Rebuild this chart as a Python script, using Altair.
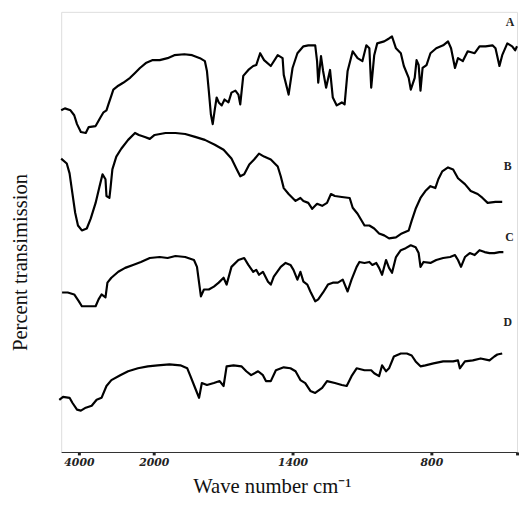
import altair as alt
import pandas as pd

# Wave number (cm^-1) and transmission (arbitrary offset units)
SPEC_A = [(4500,347),(4395,349),(4237,347),(4132,342),(4053,333),(3947,325),(3816,324),(3737,330),
          (3553,331),(3421,340),(3342,345),(3263,347),(3211,353),(3132,362),(3079,368),(2947,372),
          (2816,375),(2632,380),(2500,385),(2368,390),(2211,395),(2026,398),(1974,398),(1940,400),
          (1911,403),(1868,404),(1834,403),(1800,400),(1779,397),(1770,387),(1762,367),(1753,343),
          (1745,333),(1736,348),(1728,360),(1719,355),(1706,352),(1694,358),(1677,355),(1664,365),
          (1647,367),(1634,363),(1626,353),(1613,382),(1591,388),(1570,392),(1557,393),(1540,405),
          (1523,398),(1494,392),(1464,403),(1443,400),(1438,383),(1417,363),(1400,390),(1379,405),
          (1353,412),(1332,413),(1302,413),(1294,397),(1289,375),(1277,402),(1268,387),(1255,370),
          (1238,388),(1226,360),(1209,352),(1187,355),(1175,353),(1162,387),(1140,407),(1119,400),
          (1098,397),(1081,413),(1068,410),(1060,370),(1047,403),(1034,415),(1004,417),(983,420),
          (970,422),(953,410),(932,405),(919,392),(898,380),(889,368),(872,380),(864,398),(855,393),
          (847,367),(838,390),(821,393),(804,405),(779,410),(749,413),(728,417),(715,410),(698,390),
          (685,400),(664,397),(643,407),(613,405),(592,412),(566,412),(536,413),(523,410),(506,392),
          (494,403),(472,415),(451,412),(438,408),(430,412)]

SPEC_B = [(4500,298),(4342,293),(4263,283),(4184,263),(4105,243),(4026,230),(3921,225),(3789,227),
          (3684,237),(3553,253),(3447,270),(3368,282),(3289,277),(3263,260),(3184,258),(3158,267),
          (3105,287),(3000,300),(2868,308),(2684,317),(2500,324),(2395,322),(2237,320),(2105,318),
          (1996,322),(1949,324),(1906,324),(1864,323),(1821,320),(1779,317),(1736,312),(1698,307),
          (1664,298),(1643,288),(1626,280),(1609,282),(1587,292),(1566,297),(1545,303),(1523,300),
          (1494,297),(1464,290),(1451,280),(1438,268),(1417,262),(1387,255),(1366,258),(1353,255),
          (1332,253),(1315,247),(1294,252),(1272,250),(1251,253),(1234,262),(1217,260),(1187,259),
          (1153,258),(1140,248),(1119,242),(1089,230),(1068,230),(1047,227),(1026,222),(1004,220),
          (983,217),(953,218),(928,222),(898,225),(885,235),(868,247),(847,258),(826,265),(804,270),
          (783,268),(770,277),(753,285),(728,289),(706,287),(685,278),(655,272),(630,265),(600,262),
          (579,258),(557,253),(523,254),(494,254)]

SPEC_C = [(4474,162),(4316,162),(4132,160),(4000,153),(3921,148),(3684,148),(3553,148),(3474,155),
          (3395,160),(3289,157),(3237,172),(3132,177),(2947,183),(2763,187),(2553,190),(2342,193),
          (2105,197),(1974,198),(1940,197),(1906,199),(1864,198),(1826,195),(1813,188),(1804,172),
          (1796,158),(1783,165),(1762,165),(1740,168),(1719,172),(1698,177),(1685,170),(1664,188),
          (1634,195),(1609,197),(1591,190),(1570,183),(1557,185),(1545,180),(1528,183),(1506,173),
          (1494,170),(1481,178),(1451,188),(1430,192),(1409,190),(1396,185),(1379,175),(1366,183),
          (1353,173),(1336,170),(1323,163),(1302,153),(1289,155),(1268,162),(1247,170),(1226,172),
          (1204,172),(1183,175),(1162,163),(1145,175),(1123,188),(1111,193),(1089,192),(1068,193),
          (1055,190),(1038,192),(1026,187),(1013,180),(996,195),(983,187),(970,182),(953,198),
          (932,205),(911,207),(889,210),(868,208),(855,202),(847,188),(834,193),(804,192),(779,195),
          (749,197),(719,198),(698,200),(685,195),(672,188),(655,198),(634,202),(613,200),(592,205),
          (570,203),(549,202),(528,202),(506,203),(489,203)]

SPEC_D = [(4553,53),(4447,56),(4263,55),(4184,50),(4053,43),(3947,42),(3816,45),(3658,47),(3526,53),
          (3395,55),(3263,67),(3132,73),(2895,78),(2684,82),(2421,85),(2158,87),(1983,88),(1932,89),
          (1885,88),(1855,85),(1843,78),(1821,65),(1804,55),(1792,70),(1770,68),(1740,70),(1715,72),
          (1698,67),(1685,87),(1655,88),(1621,87),(1600,82),(1579,78),(1549,82),(1528,78),(1515,72),
          (1494,72),(1472,83),(1438,86),(1409,85),(1387,82),(1366,73),(1345,70),(1323,62),(1302,60),
          (1272,65),(1251,72),(1217,70),(1187,68),(1166,67),(1145,77),(1123,85),(1089,83),(1060,83),
          (1047,80),(1026,77),(1013,88),(996,82),(983,85),(962,97),(932,100),(906,100),(885,98),
          (868,92),(847,87),(826,88),(791,90),(749,92),(706,92),(685,93),(677,85),(655,92),(621,93),
          (587,95),(549,93),(528,97),(515,99),(494,100)]

SERIES = {"A": SPEC_A, "B": SPEC_B, "C": SPEC_C, "D": SPEC_D}
LABELS = ["A", "B", "C", "D"]
LABEL_WN = [460, 470, 462, 470]
LABEL_T = [437, 290, 218, 132]
TICKS = [4000, 2000, 1400, 800, 430]

rows = []
for name, pts in SERIES.items():
    for i, (wn, t) in enumerate(pts):
        rows.append({"series": name, "order": i, "wn": wn, "t": t})
df = pd.DataFrame(rows)
lab = pd.DataFrame({"label": LABELS, "wn": LABEL_WN, "t": LABEL_T})

xscale = alt.Scale(domain=[4500, 4000, 2000, 800, 430], range=[0, 18, 94, 376, 463],
                   nice=False, zero=False)
yscale = alt.Scale(domain=[0, 447], nice=False, zero=False)

xaxis = alt.Axis(values=TICKS, format="d",
                 labelExpr="datum.value == 430 ? '' : datum.label",
                 title="Wave number cm\u207b\u00b9", titleFont="Liberation Serif",
                 titleFontSize=21, titleFontWeight="normal", titleColor="#111",
                 titleX=214, titleY=35, titleBaseline="middle", titleAlign="center",
                 labelFont="DejaVu Serif", labelFontStyle="italic", labelFontWeight="bold",
                 labelFontSize=11, labelColor="#222", labelPadding=2,
                 tickSize=3, tickWidth=3, tickColor="#222",
                 domainColor="#333", domainWidth=1.2, grid=False)

yaxis = alt.Axis(title="Percent transimission", labels=False, ticks=False, domain=False,
                 grid=False, titleFont="Liberation Serif", titleFontSize=21,
                 titleFontWeight="normal", titleColor="#111", titleAngle=270,
                 titleX=-41, titleY=254, titleBaseline="middle", titleAlign="center")

lines = alt.Chart(df).mark_line(color="black", strokeWidth=2.2, strokeJoin="round").encode(
    x=alt.X("wn:Q", scale=xscale, axis=xaxis),
    y=alt.Y("t:Q", scale=yscale, axis=yaxis),
    detail="series:N",
    order="order:Q",
)

labels = alt.Chart(lab).mark_text(font="Liberation Serif", fontWeight="bold", fontSize=12,
                                  color="#222").encode(
    x=alt.X("wn:Q", scale=xscale),
    y=alt.Y("t:Q", scale=yscale),
    text="label:N",
)

chart = alt.layer(lines, labels).properties(
    width=463, height=447,
    autosize=alt.AutoSizeParams(type="none"),
    padding={"left": 54, "top": 0, "right": 2, "bottom": 55},
).configure_view(stroke=None).configure(background="white")

chart.save("out.html", embed_options={"renderer": "svg", "actions": False})
